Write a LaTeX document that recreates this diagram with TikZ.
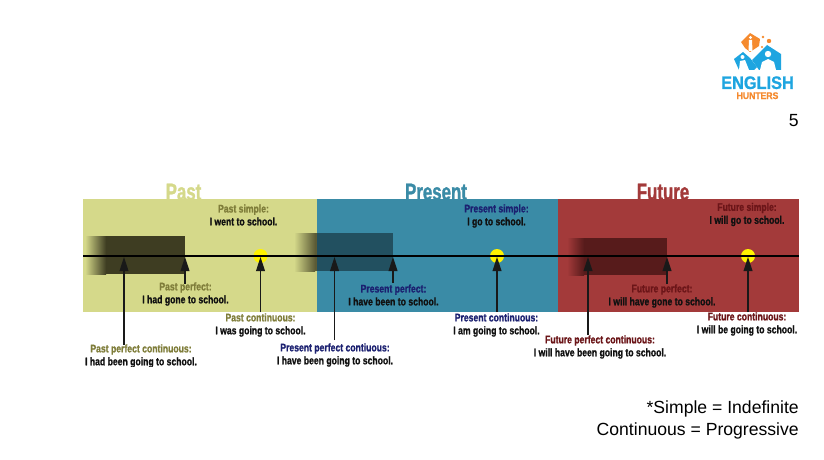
\documentclass[tikz,border=0pt]{standalone}
\usepackage{fontspec}
\setmainfont{Liberation Sans}
\newfontfamily\cond[FakeStretch=0.78,BoldFeatures={FakeBold=1.2}]{Liberation Sans}
\newfontfamily\titlef[FakeStretch=0.71,BoldFeatures={FakeBold=1.2}]{Liberation Sans}
\newfontfamily\logof[FakeStretch=0.9,BoldFeatures={FakeBold=0.8}]{Liberation Sans}
\usetikzlibrary{arrows.meta}
\definecolor{pastbg}{HTML}{D5D98A}
\definecolor{presbg}{HTML}{3A8BA6}
\definecolor{futbg}{HTML}{A33A3A}
\definecolor{pastlb}{HTML}{7F7D3A}
\definecolor{preslb}{HTML}{1B2070}
\definecolor{futlb}{HTML}{6B1518}
\definecolor{sent}{HTML}{111111}
\definecolor{logoO}{HTML}{F58A2E}
\definecolor{logoB}{HTML}{1EA5E0}
\definecolor{pastdk}{HTML}{3E3D22}
\definecolor{presdk}{HTML}{225060}
\definecolor{futdk}{HTML}{571B1B}
\definecolor{overlap}{HTML}{5C5B36}
\tikzset{
  title/.style={font=\titlef\bfseries\fontsize{17.8pt}{17.8pt}\selectfont,inner sep=0pt,anchor=base},
  lab/.style={font=\cond\bfseries\fontsize{8.3pt}{9.7pt}\selectfont,inner sep=0pt,align=center,text=sent},
  plain/.style={font=\fontsize{13.2pt}{16.5pt}\selectfont,inner sep=0pt,text=black},
  arr/.style={-{Triangle[length=10.5pt,width=6.5pt]},line width=1.25pt,black!90},
  dot/.style={circle,fill=yellow,minimum size=10.5pt,inner sep=0pt},
}
\begin{document}
\begin{tikzpicture}[x=0.75pt,y=-0.75pt]
\useasboundingbox (0,0) rectangle (824,460);
\fill[white] (0,0) rectangle (824,460);
% titles
\node[title,text=pastbg] (tpast) at (183.5,200) {Past};
\node[title,text=presbg] (tpres) at (436,200) {Present};
\node[title,text=futbg] (tfut) at (663,200) {Future};
% bands
\fill[pastbg] (83,199) rectangle (317,312);
\fill[presbg] (317,199) rectangle (558,312);
\fill[futbg] (558,199) rectangle (799,312);
% bars
\shade[left color=pastbg,right color=pastdk] (85,236) rectangle (106,274);
\fill[pastdk] (106,236) rectangle (185,274);
\shade[left color=pastbg,right color=overlap] (294,233) rectangle (315,271);
\fill[overlap] (315,233) rectangle (317,271);
\fill[presdk] (317,233) rectangle (393,271);
\shade[left color=futbg,right color=futdk] (567,238) rectangle (584,275);
\fill[futdk] (584,238) rectangle (667,275);
% yellow dots
\node[dot] (d1) at (260.5,256) {};
\node[dot] (d2) at (497,256) {};
\node[dot] (d3) at (748,256) {};
% timeline
\coordinate (ls) at (83,256);
\coordinate (le) at (799,256);
\draw[line width=1.2pt,black] (ls) -- (le);
% arrows
\coordinate (a1) at (124,257); \coordinate (b1) at (124,345);
\coordinate (a2) at (185,257); \coordinate (b2) at (185,284);
\coordinate (a3) at (260.5,257); \coordinate (b3) at (260.5,312);
\coordinate (a4) at (334.5,257); \coordinate (b4) at (334.5,340);
\coordinate (a5) at (393,257); \coordinate (b5) at (393,283);
\coordinate (a6) at (497,257); \coordinate (b6) at (497,312);
\coordinate (a7) at (588,257); \coordinate (b7) at (588,335);
\coordinate (a8) at (667,257); \coordinate (b8) at (667,284);
\coordinate (a9) at (748,257); \coordinate (b9) at (748,312);
\foreach \i in {1,...,9}{\draw[arr] (b\i) -- (a\i);}
% labels
\node[lab] (l1) at (141,356) {\textcolor{pastlb}{Past perfect continuous:}\\I had been going to school.};
\fill[white] (80,366.5) rectangle (210,372);
\node[lab] (l2) at (185.5,294) {\textcolor{pastlb}{Past perfect:}\\I had gone to school.};
\node[lab] (l3) at (260.5,325) {\textcolor{pastlb}{Past continuous:}\\I was going to school.};
\node[lab] (l4) at (243.5,215) {\textcolor{pastlb}{Past simple:}\\I went to school.};
\node[lab] (l5) at (335,355) {\textcolor{preslb}{Present perfect contiuous:}\\I have been going to school.};
\node[lab] (l6) at (393.5,295) {\textcolor{preslb}{Present perfect:}\\I have been to school.};
\node[lab] (l7) at (496.5,325) {\textcolor{preslb}{Present continuous:}\\I am going to school.};
\node[lab] (l8) at (496.5,216) {\textcolor{preslb}{Present simple:}\\I go to school.};
\node[lab] (l9) at (600,347) {\textcolor{futlb}{Future perfect continuous:}\\I will have been going to school.};
\node[lab] (l10) at (662,296) {\textcolor{futlb}{Future perfect:}\\I will have gone to school.};
\node[lab] (l11) at (747,324) {\textcolor{futlb}{Future continuous:}\\I will be going to school.};
\node[lab] (l12) at (747,214.5) {\textcolor{futlb}{Future simple:}\\I will go to school.};
% plain texts
\node[plain,anchor=base east] (pg) at (799,126) {5};
\node[plain,anchor=base east] (n1) at (799,413) {*Simple = Indefinite};
\node[plain,anchor=base east] (n2) at (799,435) {Continuous = Progressive};
% logo
\fill[logoO] (741,42) -- (750,33) -- (760,39) -- (759,46) -- (750,52) -- (745,48) -- cycle;
\fill[white] (750.5,37.5) circle (1.7);
\fill[white] (748.5,51) -- (749,40) -- (752,40) -- (752.5,51) -- cycle;
\fill[logoO] (763,37) circle (1.3);
\fill[logoO] (769,41) circle (2.2);
\fill[logoO] (762,47) circle (1.2);
\fill[logoB] (734,59) -- (743,52) -- (750,58) -- (757,67) -- (754,70) -- (739,70) -- cycle;
\fill[white] (742.5,57) circle (2);
\fill[white] (739,70) -- (740,61) -- (745,60) -- (749,70) -- cycle;
\fill[logoB] (752,60) -- (767,45) -- (781,54) -- (781,70) -- (759,70) -- cycle;
\fill[white] (768,54) circle (3.2);
\fill[white] (760,70) -- (762,62) -- (768,59) -- (774,62) -- (776,70) -- cycle;
\node[font=\logof\bfseries\fontsize{13.6pt}{13.6pt}\selectfont,text=logoB,inner sep=0pt,anchor=base] (lg1) at (757.5,89) {ENGLISH};
\node[font=\logof\bfseries\fontsize{7.2pt}{7.2pt}\selectfont,text=logoO,inner sep=0pt,anchor=base] (lg2) at (757.5,99) {HUNTERS};
\end{tikzpicture}
\end{document}
